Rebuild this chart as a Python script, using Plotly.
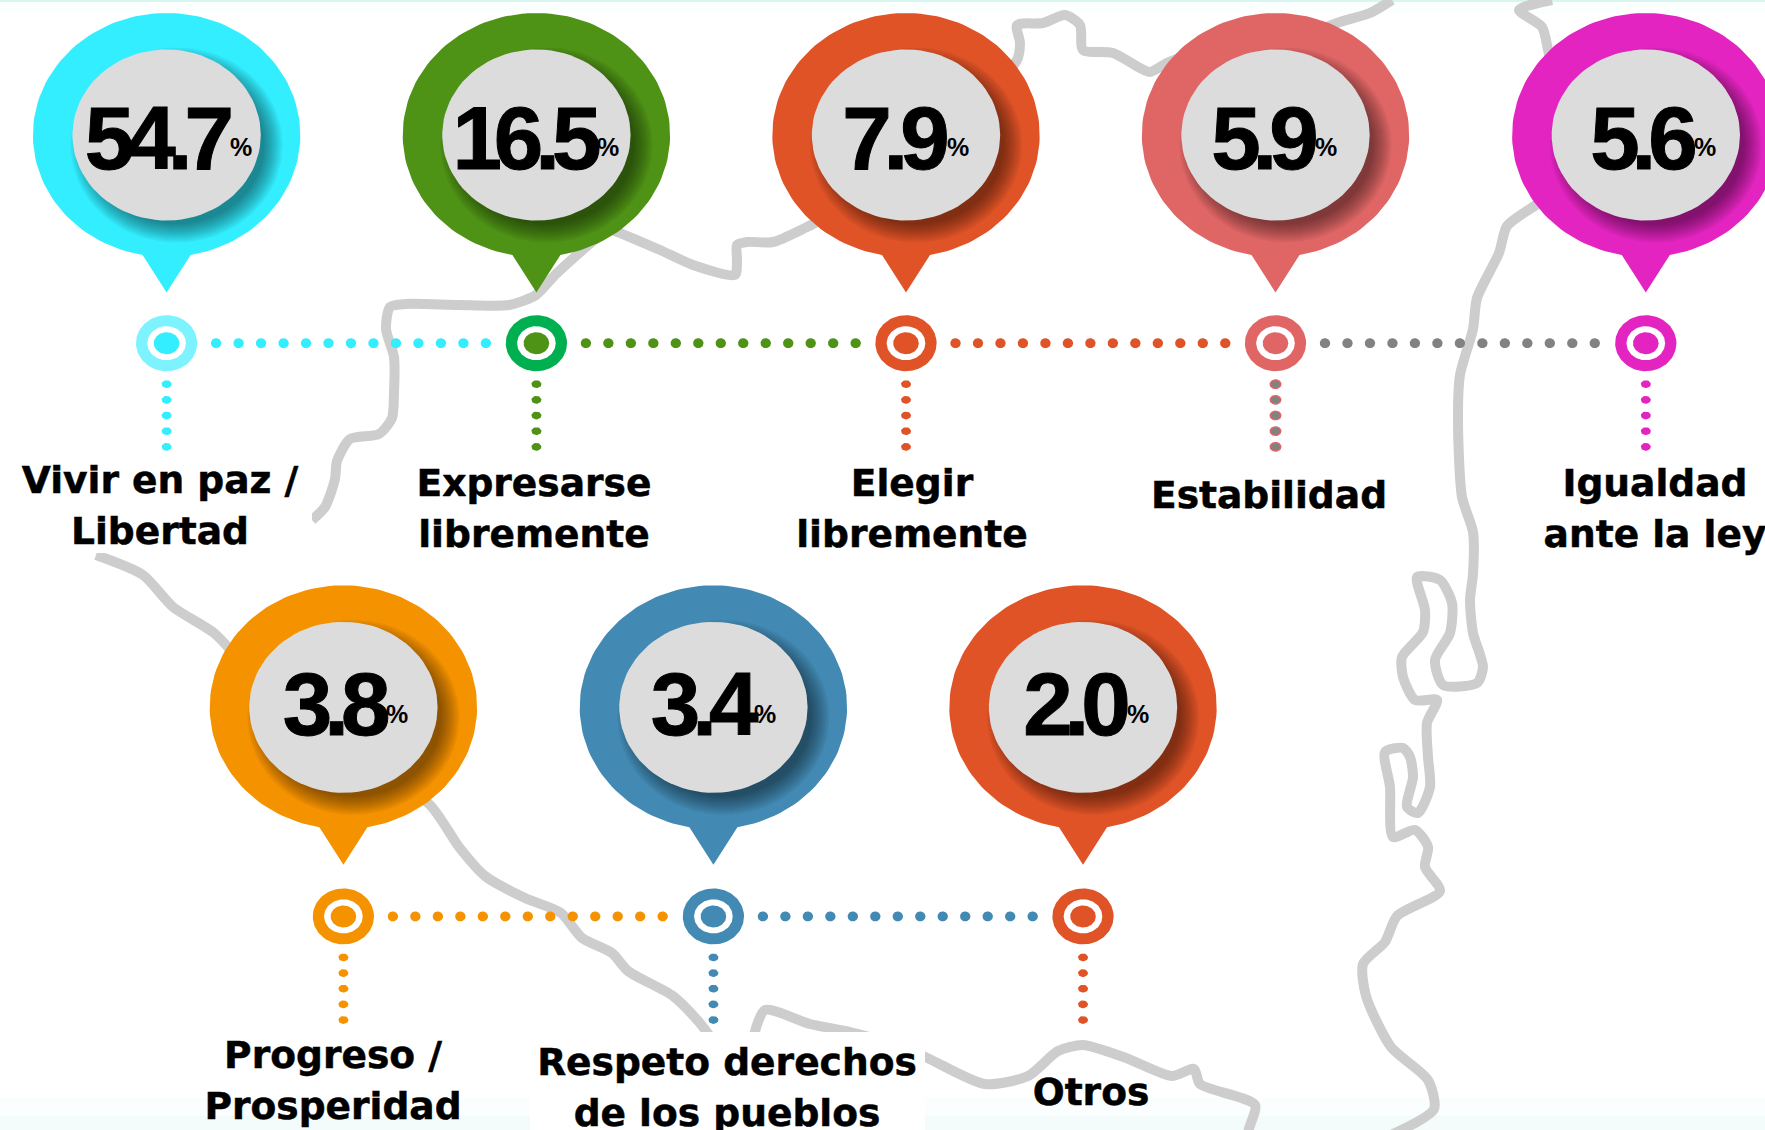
import numpy as np
import plotly.graph_objects as go

# ---------- data ----------
values = ["54.7", "16.5", "7.9", "5.9", "5.6", "3.8", "3.4", "2.0"]
categories = ["Vivir en paz /<br>Libertad", "Expresarse<br>libremente", "Elegir<br>libremente",
              "Estabilidad", "Igualdad<br>ante la ley", "Progreso /<br>Prosperidad",
              "Respeto derechos<br>de los pueblos", "Otros"]
pin_colors = ["#33EEFF", "#4E9216", "#E05326", "#E06666", "#E324C0", "#F59200", "#4289B3", "#E05326"]
ring_colors = ["#7DF3FF", "#00B050", "#E05326", "#E06666", "#E324C0", "#F59200", "#4289B3", "#E05326"]
link_colors = ["#33EEFF", "#4E9216", "#E05326", "#828282", None, "#F59200", "#4289B3", None]

# ---------- layout of the infographic (pixels) ----------
W, H = 1765, 1130
pin_x = [166.6, 536.4, 906, 1275.5, 1645.8, 343.4, 713.4, 1083]
pin_y = [135, 135, 135, 135, 135, 707.3, 707.3, 707.3]
ring_y = [343.2] * 5 + [916.4] * 3
num_x = [155.3, 523, 892, 1261, 1640, 332.6, 700.7, 1073]
num_y = [147] * 5 + [713] * 3
pct_x = [241, 608, 958, 1326, 1705, 397, 765, 1138]
pct_y = [150] * 5 + [717] * 3
lab_x = [160, 534, 912, 1269, 1655, 333, 727, 1091]
lab_y = [508, 510.6, 510.6, 499, 510.6, 1083, 1089.7, 1096]

# background map outline
map_x = [312, 325, 335, 337, 350, 379, 392, 394, 394, 386, 390, 406, 459, 509, 536, 555, 578, 600, None,
         600, 620, 660, 693, 735, 737, 737, 747, 773, 807, 850, None,
         1000, 1017, 1020, 1017, 1043, 1065, 1080, 1083, 1113, 1140, 1150, 1167, 1200, None,
         1300, 1337, 1370, 1392, None,
         1552, 1519, 1542, 1548, 1552, None,
         1560, 1536, 1507, 1499, 1477, 1473, 1460, 1458, 1462, 1473, 1473, 1470, 1473, 1483, 1477, 1443,
         1435, 1450, 1452, 1440, 1417, 1425, 1423, 1402, 1403, 1415, 1437, 1427, 1428, 1430, 1418, 1407,
         1413, 1410, 1403, 1385, 1390, 1393, 1415, 1428, 1425, 1440, 1397, 1385, 1363, 1366, 1391, 1428,
         1434, 1391, None,
         1323, 1249, 1255, 1200, 1194, 1172, 1126, 1083, 1058, 1028, 985, 923, 880, 850, 810, 765, 754, None,
         96, 143, 173, 214, 240, 300, 429, 459, 485, 525, 561, 582, 612, 628, 673, 699, 709]
map_y = [520, 507, 479, 461, 439, 434, 418, 393, 357, 329, 307, 304, 305, 305, 295, 275, 254, 235, None,
         225, 233, 250, 265, 275, 260, 245, 242, 242, 227, 205, None,
         80, 60, 43, 25, 23, 15, 25, 50, 53, 68, 72, 63, 50, None,
         40, 23, 13, 0, None,
         0, 10, 27, 50, 70, None,
         190, 205, 226, 253, 298, 329, 375, 421, 497, 532, 574, 600, 633, 667, 683, 685,
         660, 633, 603, 580, 577, 610, 632, 657, 677, 700, 700, 723, 757, 787, 813, 807,
         777, 757, 748, 752, 787, 837, 830, 847, 867, 891, 916, 942, 964, 996, 1047, 1080,
         1109, 1135, None,
         1135, 1135, 1105, 1084, 1069, 1076, 1058, 1045, 1051, 1076, 1084, 1056, 1040, 1032, 1024, 1010, 1035, None,
         555, 575, 607, 633, 660, 720, 804, 847, 876, 898, 913, 938, 953, 971, 996, 1022, 1035]


def ell(cx, cy, rx, ry, n=90):
    t = np.linspace(0, 2 * np.pi, n)
    return list(cx + rx * np.cos(t)), list(cy + ry * np.sin(t))


def pin(cx, cy, rx, ry, neck, drop):
    th = np.arcsin(neck / rx)
    t = np.linspace(th, 2 * np.pi - th, 140)
    xs = list(cx + rx * np.sin(t))
    ys = list(cy + ry * np.cos(t))
    return xs + [cx, xs[0]], ys + [cy + drop, ys[0]]


def many(items):
    xs, ys = [], []
    for it in items:
        a, b = ell(*it, n=28)
        xs += a + [None]
        ys += b + [None]
    return xs, ys


fig = go.Figure()


def blob(x, y, color):
    fig.add_trace(go.Scatter(x=x, y=y, mode="lines", fill="toself", fillcolor=color,
                             line=dict(width=0), hoverinfo="skip", showlegend=False))


def rect(x0, y0, x1, y1, color):
    blob([x0, x1, x1, x0, x0], [y0, y0, y1, y1, y0], color)


# page tints
rect(0, 0, W, 2, "#D6F6EF")
rect(0, 2, W, 14, "#FBFFFE")
rect(0, 1098, W, 1116, "#FBFEFE")
rect(0, 1116, W, H, "#F3FCFB")

# map
fig.add_trace(go.Scatter(x=map_x, y=map_y, mode="lines", connectgaps=False,
                         line=dict(color="#CDCDCD", width=10, shape="spline", smoothing=0.7),
                         hoverinfo="skip", showlegend=False))
# white areas behind labels
rect(0, 455, 312, 553, "#FFFFFF")
rect(530, 1032, 925, H, "#FFFFFF")

# connectors
for i in range(8):
    cx, ry = pin_x[i], ring_y[i]
    if link_colors[i]:
        dots = [(cx + 49.5 + 22.48 * k, ry, 5.2, 5.0) for k in range(13)]
        x, y = many(dots)
        blob(x, y, link_colors[i])
    vx = [ry + 41 + 15.65 * k for k in range(5)]
    if i == 3:
        x, y = many([(cx, v, 6, 4.9) for v in vx])
        blob(x, y, pin_colors[i])
        x, y = many([(cx, v, 4.6, 3.6) for v in vx])
        blob(x, y, "#828282")
    else:
        x, y = many([(cx, v, 5, 3.9) for v in vx])
        blob(x, y, pin_colors[i])

# pins, shadows, rings
for i in range(8):
    cx, cy, ry = pin_x[i], pin_y[i], ring_y[i]
    x, y = pin(cx, cy, 133.7, 122, 24, 157.5)
    blob(x, y, pin_colors[i])
    for g in range(-6, 14, 2):
        x, y = ell(cx + 10, cy + 10, 94 + g, 85.5 + g)
        blob(x, y, "rgba(0,0,0,0.05)")
    x, y = ell(cx, cy, 94.2, 85.5)
    blob(x, y, "#DCDCDC")
    x, y = ell(cx, ry, 30.6, 28)
    blob(x, y, ring_colors[i])
    x, y = ell(cx, ry, 19.3, 17)
    blob(x, y, "#FFFFFF")
    x, y = ell(cx, ry, 12.8, 11)
    blob(x, y, pin_colors[i])

# texts
fig.add_trace(go.Scatter(x=num_x, y=num_y, mode="text", text=values,
                         textposition="middle center", hoverinfo="skip", showlegend=False,
                         textfont=dict(family="Liberation Sans", size=89, color="#000000", weight=700)))
fig.add_trace(go.Scatter(x=pct_x, y=pct_y, mode="text", text=["%"] * 8,
                         textposition="middle center", hoverinfo="skip", showlegend=False,
                         textfont=dict(family="Liberation Sans", size=25, color="#000000", weight=700)))
fig.add_trace(go.Scatter(x=lab_x, y=lab_y, mode="text", text=categories,
                         textposition="middle center", hoverinfo="skip", showlegend=False,
                         textfont=dict(family="DejaVu Sans", size=37.6, color="#000000", weight=700)))

fig.update_layout(width=W, height=H, margin=dict(l=0, r=0, t=0, b=0),
                  paper_bgcolor="#FFFFFF", plot_bgcolor="#FFFFFF", showlegend=False, hovermode=False,
                  xaxis=dict(range=[0, W], visible=False, fixedrange=True),
                  yaxis=dict(range=[H, 0], visible=False, fixedrange=True))

page_script = """
document.body.style.margin = '0';
document.querySelectorAll('.textpoint text').forEach(function (t) {
  var size = parseFloat(t.style.fontSize);
  if (size > 80) {
    t.style.letterSpacing = '-8px';
    t.style.stroke = '#000';
    t.style.strokeWidth = '1px';
  } else if (size > 30) {
    t.style.stroke = '#000';
    t.style.strokeWidth = '0.5px';
    t.querySelectorAll('tspan.line').forEach(function (s) {
      if (parseFloat(s.getAttribute('dy')) > 0) { s.setAttribute('dy', '1.36em'); }
    });
  }
});
"""
fig.write_html("out.html", post_script=page_script, config={"displayModeBar": False})
